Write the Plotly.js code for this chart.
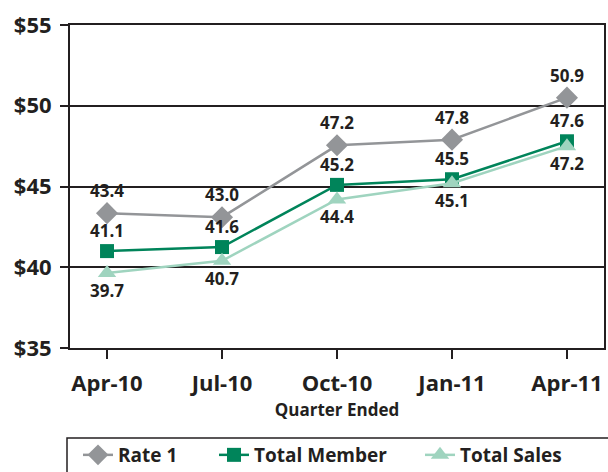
<!DOCTYPE html>
<html>
<head>
<meta charset="utf-8">
<script src="https://cdn.plot.ly/plotly-3.0.1.min.js"></script>
<style>html,body{margin:0;padding:0;background:#fff}#chart{width:608px;height:472px}</style>
</head>
<body>
<div id="chart"></div>
<script>
const quarters = ["Apr-10", "Jul-10", "Oct-10", "Jan-11", "Apr-11"];
const rate1 = [43.35, 43.1, 47.55, 47.9, 50.5];
const rate1Labels = ["43.4", "43.0", "47.2", "47.8", "50.9"];
const totalMember = [41.0, 41.25, 45.1, 45.45, 47.8];
const totalMemberLabels = ["41.1", "41.6", "45.2", "45.5", "47.6"];
const totalSales = [39.65, 40.4, 44.2, 45.2, 47.5];
const totalSalesLabels = ["39.7", "40.7", "44.4", "45.1", "47.2"];

const FONT = "Open Sans, DejaVu Sans, sans-serif";
const TXT = "#231f20";
const labelFont = {family: FONT, size: 17, color: TXT, weight: "bold"};
const legFont = {family: FONT, size: 19, color: TXT, weight: "bold"};

const traces = [
  {name: "Rate 1", legend: "legend", x: quarters, y: rate1, text: rate1Labels, mode: "lines+markers+text",
   textposition: "top center", textfont: labelFont, cliponaxis: false,
   line: {color: "#939598", width: 2.5}, marker: {symbol: "diamond", size: 17, color: "#939598"}},
  {name: "Total Member", legend: "legend2", x: quarters, y: totalMember, text: totalMemberLabels, mode: "lines+markers+text",
   textposition: "top center", textfont: labelFont, cliponaxis: false,
   line: {color: "#00845a", width: 2.5}, marker: {symbol: "square", size: 14, color: "#00845a"}},
  {name: "Total Sales", legend: "legend3", x: quarters, y: totalSales, text: totalSalesLabels, mode: "lines+markers+text",
   textposition: "bottom center", textfont: labelFont, cliponaxis: false,
   line: {color: "#9fd4bf", width: 2.5}, marker: {symbol: "triangle-up", size: 16, color: "#9fd4bf"}}
];

function leg(xpx) {
  return {orientation: "h", xref: "container", yref: "container",
          x: xpx / 608, xanchor: "left", y: (472 - 455) / 472, yanchor: "middle",
          borderwidth: 0, bgcolor: "rgba(0,0,0,0)", font: legFont};
}

const layout = {
  width: 608, height: 472,
  margin: {l: 70, r: 4, t: 25, b: 124},
  paper_bgcolor: "#fff", plot_bgcolor: "#fff",
  showlegend: true,
  font: {family: FONT, color: TXT},
  xaxis: {
    type: "category", range: [-0.322, 4.322], automargin: false,
    showline: true, linecolor: "#231f20", linewidth: 2, mirror: true,
    ticks: "outside", ticklen: 9, tickwidth: 2, tickcolor: "#231f20", ticklabelstandoff: 6,
    showgrid: false, zeroline: false,
    tickfont: {family: FONT, size: 22, color: TXT, weight: "bold"},
    title: {text: "Quarter Ended", font: {family: FONT, size: 17, color: TXT, weight: "bold"}, standoff: 8}
  },
  yaxis: {
    range: [35, 55], dtick: 5, tick0: 35, tickprefix: "$", automargin: false,
    showline: true, linecolor: "#231f20", linewidth: 2, mirror: true,
    ticks: "outside", ticklen: 8, tickwidth: 2, tickcolor: "#231f20", ticklabelstandoff: 4,
    showgrid: true, gridcolor: "#231f20", gridwidth: 1.5, zeroline: false,
    tickfont: {family: FONT, size: 22, color: TXT, weight: "bold"}
  },
  legend: leg(78),
  legend2: leg(214),
  legend3: leg(420),
  shapes: [{type: "rect", xref: "paper", yref: "paper", x0: -3 / 534, x1: 560 / 534,
            y0: -90 / 323, y1: -140 / 323, line: {color: "#231f20", width: 1.5}, fillcolor: "rgba(0,0,0,0)", layer: "below"}]
};

Plotly.newPlot("chart", traces, layout, {displayModeBar: false, responsive: false});
</script>
</body>
</html>
